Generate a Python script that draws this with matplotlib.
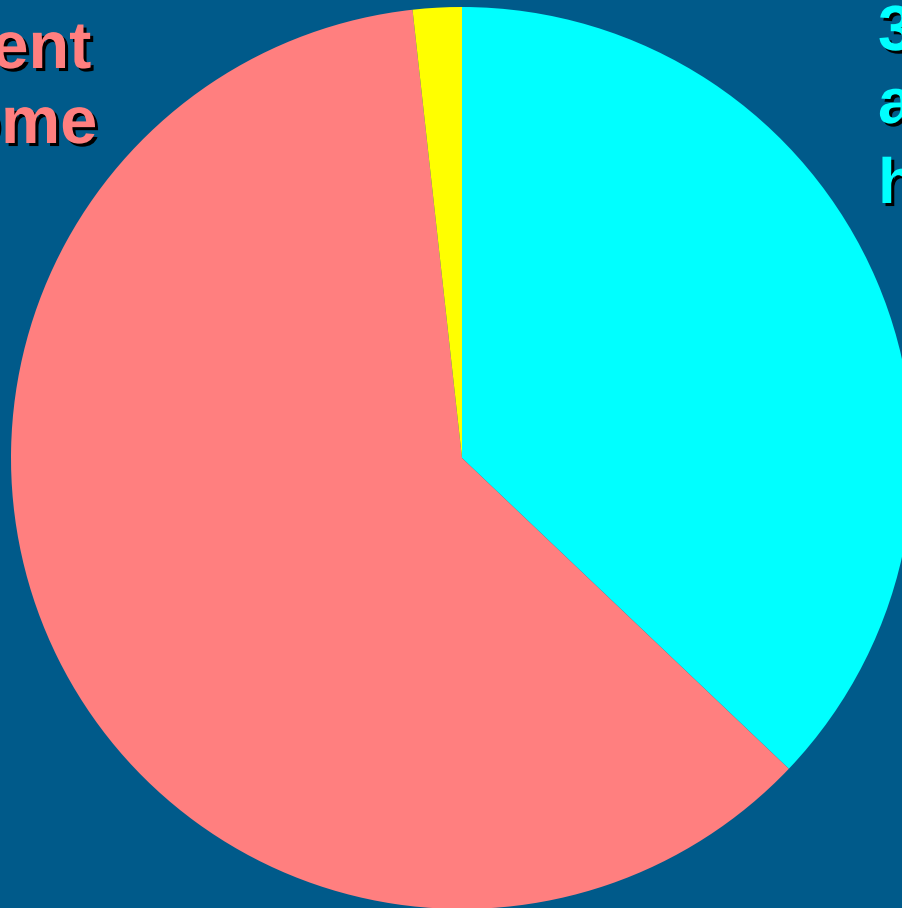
import matplotlib
matplotlib.use("Agg")
import matplotlib.pyplot as plt
import matplotlib.patheffects as pe

# share of each slice, clockwise from 12 o'clock
slice_names = ["at home", "parent income", "other"]
slice_values = [37.1, 61.15, 1.75]
slice_colors = ["#00FFFF", "#FF7F7F", "#FFFF00"]

left_lines = ["Parent", "income"]
right_lines = ["37%", "at", "home"]

bg = "#005A8A"
W, H = 903, 908

fig = plt.figure(figsize=(W / 100, H / 100), dpi=100, facecolor=bg)
ax = fig.add_axes([0, 0, 1, 1])
ax.set_facecolor(bg)
ax.set_xlim(0, W)
ax.set_ylim(0, H)
ax.set_aspect("equal")
ax.axis("off")

ax.pie(slice_values, colors=slice_colors, startangle=90, counterclock=False,
       center=(462, 450), radius=451, frame=True,
       wedgeprops=dict(linewidth=0))
ax.set_xlim(0, W)
ax.set_ylim(0, H)
ax.axis("off")

shadow = [pe.SimplePatchShadow(offset=(2.2, -2.2), shadow_rgbFace="black", alpha=1),
          pe.Normal()]

# left label, cut by the figure edge
for txt, x, y in zip(left_lines, [91, 97], [840, 765]):
    ax.text(x, y, txt, ha="right", va="baseline", fontsize=48,
            fontweight="bold", family="Liberation Sans", color="#FF7F7F",
            path_effects=shadow)

# right label, also cut
for txt, y in zip(right_lines, [858, 785, 705]):
    ax.text(878, y, txt, ha="left", va="baseline", fontsize=46,
            fontweight="bold", family="Liberation Sans", color="#00FFFF",
            path_effects=shadow)

fig.savefig("out.png", dpi=100, facecolor=bg)
